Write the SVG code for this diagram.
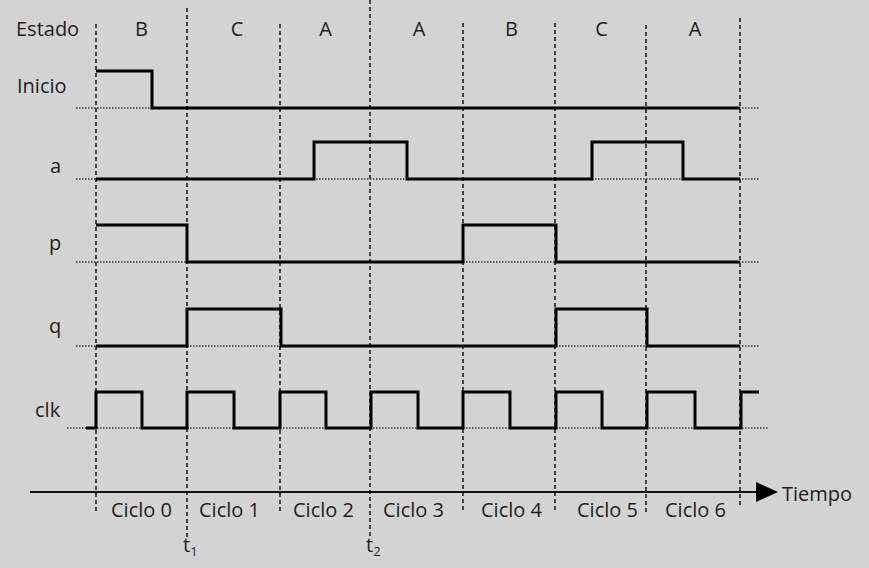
<svg xmlns="http://www.w3.org/2000/svg" width="869" height="568" viewBox="0 0 869 568">
<defs>
<style>
.bg{fill:#d3d3d3}
.lbl{font-family:"Open Sans","Noto Sans","Liberation Sans",sans-serif;font-size:20px;fill:#1e1e1e}
.sub{font-family:"Open Sans","Noto Sans","Liberation Sans",sans-serif;font-size:13px;fill:#1e1e1e}
.grid{stroke:#2a2a2a;stroke-width:1.7;stroke-dasharray:4 3;fill:none}
.ref{stroke:#3a3a3a;stroke-width:1.3;stroke-dasharray:1.5 1.5;fill:none}
.sig{stroke:#000;stroke-width:3;fill:none;stroke-linejoin:miter}
.axis{stroke:#111;stroke-width:2;fill:none}
</style>
<marker id="arrow" viewBox="0 0 22 20" refX="0" refY="10" markerWidth="22" markerHeight="20" markerUnits="userSpaceOnUse" orient="auto">
<path d="M0 0 L22 10 L0 20 Z" fill="#000"/>
</marker>
</defs>
<rect class="bg" x="0" y="0" width="869" height="568"/>

<g id="grid">
<line class="grid" x1="96" y1="24" x2="96" y2="512"/>
<line class="grid" x1="187" y1="8" x2="187" y2="537"/>
<line class="grid" x1="280" y1="24" x2="280" y2="512"/>
<line class="grid" x1="370" y1="0" x2="370" y2="537"/>
<line class="grid" x1="463" y1="23" x2="463" y2="510"/>
<line class="grid" x1="555" y1="23" x2="555" y2="510"/>
<line class="grid" x1="646" y1="25" x2="646" y2="513"/>
<line class="grid" x1="740" y1="18" x2="740" y2="507"/>
</g>

<g id="states">
<text class="lbl" x="16" y="36">Estado</text>
<text class="lbl" x="141.5" y="36" text-anchor="middle">B</text>
<text class="lbl" x="237" y="36" text-anchor="middle">C</text>
<text class="lbl" x="325.5" y="36" text-anchor="middle">A</text>
<text class="lbl" x="419" y="36" text-anchor="middle">A</text>
<text class="lbl" x="511.5" y="36" text-anchor="middle">B</text>
<text class="lbl" x="601.5" y="36" text-anchor="middle">C</text>
<text class="lbl" x="695" y="36" text-anchor="middle">A</text>
</g>

<g id="inicio">
<text class="lbl" x="17" y="93">Inicio</text>
<line class="ref" x1="76" y1="108" x2="759" y2="108"/>
<path class="sig" d="M96 71 H152 V108 H740"/>
</g>

<g id="a">
<text class="lbl" x="50" y="173">a</text>
<line class="ref" x1="76" y1="179" x2="759" y2="179"/>
<path class="sig" d="M96 179 H314 V142 H407 V179 H592 V142 H683 V179 H740"/>
</g>

<g id="p">
<text class="lbl" x="49" y="250">p</text>
<line class="ref" x1="76" y1="262" x2="759" y2="262"/>
<path class="sig" d="M96 225 H187 V262 H463 V225 H556 V262 H740"/>
</g>

<g id="q">
<text class="lbl" x="49" y="333">q</text>
<line class="ref" x1="76" y1="346" x2="759" y2="346"/>
<path class="sig" d="M96 346 H187 V309 H281 V346 H556 V309 H647 V346 H740"/>
</g>

<g id="clk">
<text class="lbl" x="35" y="417">clk</text>
<line class="ref" x1="67" y1="428" x2="768" y2="428"/>
<path class="sig" d="M86 428 H96 V392 H142 V428 H187 V392 H234 V428 H280 V392 H326 V428 H371 V392 H418 V428 H463 V392 H510 V428 H556 V392 H602 V428 H647 V392 H695 V428 H741 V392 H759"/>
</g>

<g id="time-axis">
<line class="axis" x1="30" y1="492" x2="756" y2="492" marker-end="url(#arrow)"/>
<text class="lbl" x="782" y="501">Tiempo</text>
<text class="lbl" x="111" y="517">Ciclo 0</text>
<text class="lbl" x="199" y="517">Ciclo 1</text>
<text class="lbl" x="293" y="517">Ciclo 2</text>
<text class="lbl" x="383" y="517">Ciclo 3</text>
<text class="lbl" x="481" y="517">Ciclo 4</text>
<text class="lbl" x="577" y="517">Ciclo 5</text>
<text class="lbl" x="665" y="517">Ciclo 6</text>
<text class="lbl" x="183" y="552">t<tspan class="sub" dy="4">1</tspan></text>
<text class="lbl" x="366" y="552">t<tspan class="sub" dy="4">2</tspan></text>
</g>
</svg>
